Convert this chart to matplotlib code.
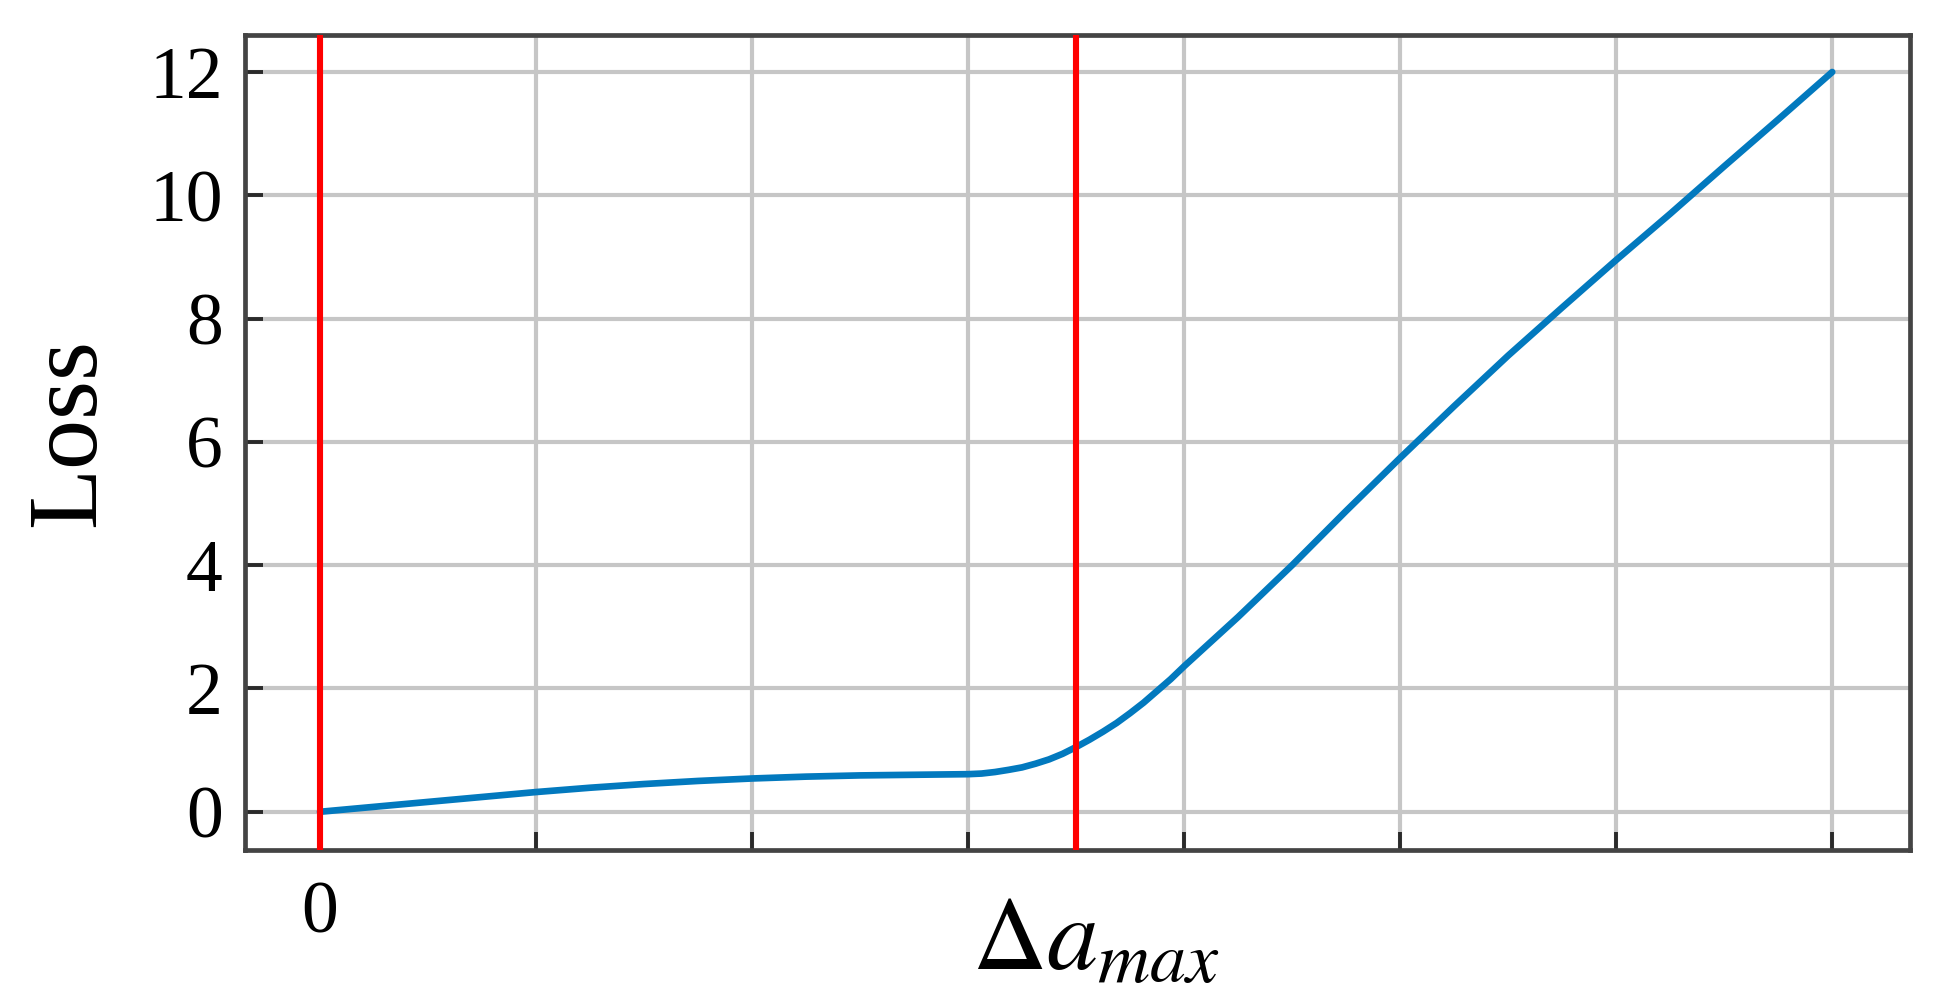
import matplotlib
matplotlib.use("Agg")
import matplotlib.pyplot as plt

# ---- data ----
delta_a = [0.0, 0.25, 0.5, 0.75, 1.0, 1.25, 1.5, 1.75, 2.0, 2.25, 2.5, 2.75, 3.0,
           3.0625, 3.125, 3.1875, 3.25, 3.3125, 3.375, 3.4375, 3.5, 3.5625, 3.625,
           3.6875, 3.75, 3.8125, 3.875, 3.9375, 4.0, 4.0625, 4.125, 4.1875, 4.25,
           4.3125, 4.375, 4.4375, 4.5, 4.625, 4.75, 4.875, 5.0, 5.125, 5.25, 5.375,
           5.5, 5.75, 6.0, 6.25, 6.5, 6.75, 7.0]
loss = [0.0, 0.08, 0.16, 0.24, 0.32, 0.39, 0.45, 0.50, 0.54, 0.57, 0.59, 0.60, 0.61,
        0.62, 0.645, 0.68, 0.72, 0.78, 0.85, 0.94, 1.05, 1.17, 1.30,
        1.44, 1.60, 1.77, 1.96, 2.15, 2.36, 2.56, 2.76, 2.96, 3.16,
        3.37, 3.58, 3.79, 4.00, 4.44, 4.88, 5.31, 5.74, 6.16, 6.58, 6.99,
        7.40, 8.18, 8.95, 9.70, 10.47, 11.23, 12.0]
red_lines = [0.0, 3.5]
x_ticks = [0, 1, 2, 3, 4, 5, 6, 7]
x_tick_labels = ["0", "", "", "", "", "", "", ""]
y_ticks = [0, 2, 4, 6, 8, 10, 12]
y_tick_labels = ["0", "2", "4", "6", "8", "10", "12"]
x_label = r"$\Delta a_{max}$"
y_label = "Loss"

plt.rcParams["font.family"] = ["Liberation Serif", "DejaVu Serif"]
plt.rcParams["mathtext.fontset"] = "stix"

fig = plt.figure(figsize=(19.36, 9.99), dpi=100)
ax = fig.add_axes([245 / 1936, 1 - 850 / 999, (1910 - 245) / 1936, (850 - 35) / 999])

ax.set_xlim(-0.347, 7.36)
ax.set_ylim(-0.62, 12.6)

ax.grid(True, color="#c6c6c6", linewidth=3.0, zorder=0)
ax.set_axisbelow(True)

ax.plot(delta_a, loss, color="#0279be", linewidth=4.8, zorder=3,
        solid_capstyle="round", solid_joinstyle="round")

for xv in red_lines:
    ax.axvline(xv, color="#ff0000", linewidth=4.4, zorder=4)

ax.set_xticks(x_ticks)
ax.set_xticklabels(x_tick_labels)
ax.set_yticks(y_ticks)
ax.set_yticklabels(y_tick_labels)
ax.tick_params(axis="both", direction="in", length=13, width=2.8,
               color="#2a2a2a", labelsize=53, labelcolor="black")
ax.tick_params(axis="x", pad=22)
ax.tick_params(axis="y", pad=16)

for sp in ax.spines.values():
    sp.set_color("#444444")
    sp.set_linewidth(3.4)

ax.set_xlabel(x_label, fontsize=74)
ax.xaxis.set_label_coords(0.511, -0.058)
ax.xaxis.label.set_va("top")

ax.set_ylabel(y_label, fontsize=72)
ax.yaxis.set_label_coords(-0.078, 0.512)

fig.savefig("out.png", dpi=100, facecolor="white")
